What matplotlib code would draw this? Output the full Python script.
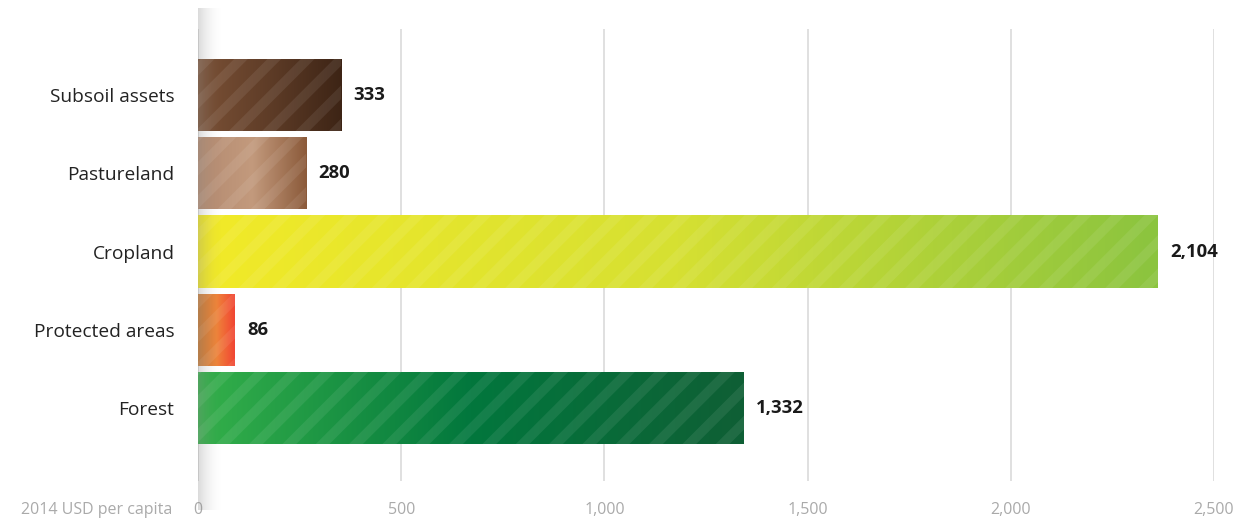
import numpy as np
import matplotlib
matplotlib.use('Agg')
import matplotlib.pyplot as plt
from matplotlib.colors import LinearSegmentedColormap
from matplotlib.patches import Rectangle

plt.rcParams['font.family'] = ['Open Sans', 'DejaVu Sans']
plt.rcParams['hatch.linewidth'] = 7

# data (bar lengths as drawn in the source, labels as printed)
categories = ["Subsoil assets", "Pastureland", "Cropland", "Protected areas", "Forest"]
bar_values = [352, 266, 2362, 91, 1343]
value_labels = ["333", "280", "2,104", "86", "1,332"]
xticks = [0, 500, 1000, 1500, 2000, 2500]
xtick_labels = ["0", "500", "1,000", "1,500", "2,000", "2,500"]

# gradient colours per bar, left -> right
gradients = [
    ["#7b5136", "#5e3c27", "#3d2415"],
    ["#b38a70", "#c39a7d", "#8b5a3a"],
    ["#f2ea28", "#d6e032", "#8bc43f"],
    ["#c9782f", "#ef843a", "#f14533"],
    ["#34b04a", "#02773d", "#0f5f35"],
]

W, H = 1244, 520
fig = plt.figure(figsize=(W / 100, H / 100), dpi=100)
ax = fig.add_axes([198 / W, (H - 481) / H, (1214 - 198) / W, (481 - 29) / H])

ypos = np.arange(len(categories))
bh = 0.92
for y, v, cols in zip(ypos, bar_values, gradients):
    cmap = LinearSegmentedColormap.from_list("g", cols)
    rect = Rectangle((0, y - bh / 2), v, bh, facecolor='none', edgecolor='none')
    ax.add_patch(rect)
    im = ax.imshow(np.linspace(0, 1, 256).reshape(1, -1), cmap=cmap, aspect='auto',
                   extent=(0, v, y + bh / 2, y - bh / 2), zorder=2)
    im.set_clip_path(rect)
    stripes = Rectangle((0, y - bh / 2), v, bh, facecolor='none',
                        edgecolor=(1, 1, 1, 0.08), linewidth=0, hatch='/', zorder=3)
    ax.add_patch(stripes)
    ax.annotate(value_labels[y], (v, y), xytext=(9, 0), textcoords='offset points',
                va='center', ha='left', fontsize=13.3, fontweight='bold', color='#1a1a1a')

ax.set_xlim(0, 2500)
ax.set_ylim(len(categories) - 1 + 73 / 78.3, -66 / 78.3)
ax.set_yticks(ypos)
ax.set_yticklabels(categories, fontsize=13.8, color='#222222')
ax.set_xticks(xticks)
ax.set_xticklabels(xtick_labels, fontsize=11.5, color='#aaaaaa')
ax.tick_params(axis='y', length=0, pad=17)
ax.tick_params(axis='x', length=0, pad=15)
ax.grid(axis='x', color='#dddddd', linewidth=1.3, zorder=0)
ax.set_axisbelow(True)
for s in ax.spines.values():
    s.set_visible(False)

fig.text(172 / W, 1 - 510 / H, "2014 USD per capita", ha='right', va='center',
         fontsize=11.5, color='#aaaaaa')

# soft shadow along the zero line
sh = fig.add_axes([198 / W, (H - 510) / H, 26 / W, (510 - 8) / H], zorder=5)
sh.set_axis_off()
shade = np.zeros((1, 64, 4))
shade[..., :3] = 0.55
shade[..., 3] = 0.32 * (1 - np.linspace(0, 1, 64)) ** 2
sh.imshow(shade, aspect='auto', extent=(0, 1, 0, 1))
sh.patch.set_alpha(0)

fig.savefig("out.png", dpi=100)
